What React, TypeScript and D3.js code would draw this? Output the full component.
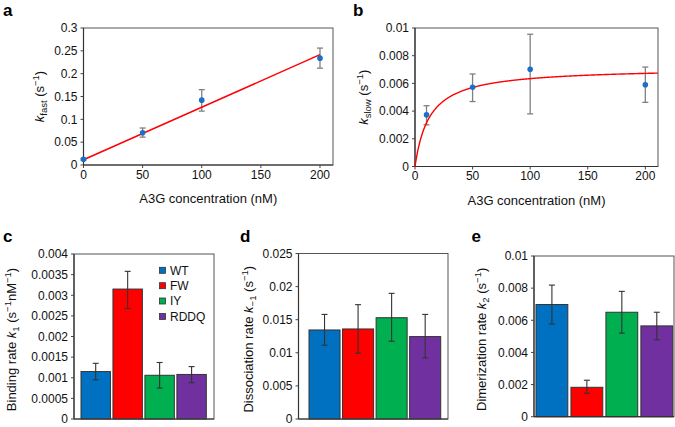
import React from 'react';
import * as d3 from 'd3';

const FONT = "'Liberation Sans', Arial, Helvetica, sans-serif";

// ---------- Panel a: k_fast vs concentration ----------
const concA = [0, 50, 100, 200];
const kFast = [0.0125, 0.0707, 0.142, 0.234];
const kFastLo = [0.0105, 0.061, 0.118, 0.212];
const kFastHi = [0.0145, 0.081, 0.165, 0.256];
const fastFitIntercept = 0.0115;
const fastFitSlope = 0.00115;
const ticksA_y = [0, 0.05, 0.1, 0.15, 0.2, 0.25, 0.3];
const ticksConc = [0, 50, 100, 150, 200];

// ---------- Panel b: k_slow vs concentration ----------
const concB = [10, 50, 100, 200];
const kSlow = [0.00373, 0.00572, 0.00702, 0.0059];
const kSlowLo = [0.00301, 0.00469, 0.0038, 0.00463];
const kSlowHi = [0.00439, 0.00668, 0.00955, 0.00718];
const slowFitVmax = 0.00715;
const slowFitK = 12.7;
const ticksB_y = [0, 0.002, 0.004, 0.006, 0.008, 0.01];

// ---------- Panels c, d, e: mutants ----------
const mutants = ['WT', 'FW', 'IY', 'RDDQ'];
const mutantColors = ['#0070C0', '#FF0000', '#00B050', '#7030A0'];

const k1 = [0.00115, 0.00315, 0.00106, 0.00108];
const k1Lo = [0.00095, 0.00268, 0.00075, 0.00088];
const k1Hi = [0.00135, 0.00358, 0.00137, 0.00127];
const ticksC = [0, 0.0005, 0.001, 0.0015, 0.002, 0.0025, 0.003, 0.0035, 0.004];

const kMinus1 = [0.01345, 0.0136, 0.0153, 0.01245];
const kMinus1Lo = [0.01114, 0.00994, 0.01175, 0.00924];
const kMinus1Hi = [0.0158, 0.01727, 0.01898, 0.0158];
const ticksD = [0, 0.005, 0.01, 0.015, 0.02, 0.025];

const k2 = [0.00698, 0.00183, 0.0065, 0.00565];
const k2Lo = [0.00577, 0.00146, 0.0052, 0.00479];
const k2Hi = [0.00819, 0.00227, 0.0078, 0.0065];
const ticksE = [0, 0.002, 0.004, 0.006, 0.008, 0.01];

const fmt = (v: number) => String(+v.toFixed(6));

type Box = { x0: number; x1: number; y0: number; y1: number };

const TITLE_FS = 13;
const SUB_FS = 9.5;

function YTicks({ box, y, ticks }: { box: Box; y: d3.ScaleLinear<number, number>; ticks: number[] }) {
  return (
    <g>
      {ticks.map((t) => (
        <g key={t}>
          <line x1={box.x0 - 3} x2={box.x0} y1={y(t)} y2={y(t)} stroke="#444" strokeWidth={1} />
          <text x={box.x0 - 6} y={y(t)} dy="0.36em" textAnchor="end" fontSize={12} fill="#111">
            {fmt(t)}
          </text>
        </g>
      ))}
    </g>
  );
}

function XTicks({ box, x, ticks }: { box: Box; x: d3.ScaleLinear<number, number>; ticks: number[] }) {
  return (
    <g>
      {ticks.map((t) => (
        <g key={t}>
          <line x1={x(t)} x2={x(t)} y1={box.y1} y2={box.y1 + 3} stroke="#444" strokeWidth={1} />
          <text x={x(t)} y={box.y1 + 13.5} textAnchor="middle" fontSize={12} fill="#111">
            {fmt(t)}
          </text>
        </g>
      ))}
    </g>
  );
}

function Frame({ box }: { box: Box }) {
  return (
    <g>
      <rect x={box.x0} y={box.y0} width={box.x1 - box.x0} height={box.y1 - box.y0} fill="none" stroke="#555" strokeWidth={1} />
      <line x1={box.x0} x2={box.x0} y1={box.y0} y2={box.y1} stroke="#333" strokeWidth={1.2} />
      <line x1={box.x0} x2={box.x1} y1={box.y1} y2={box.y1} stroke="#333" strokeWidth={1.2} />
    </g>
  );
}

function ScatterPanel({ box, xs, ys, lo, hi, yTicks, yMax, fitPath, title, sub }: any) {
  const x = d3.scaleLinear().domain([0, 211]).range([box.x0, box.x1]);
  const y = d3.scaleLinear().domain([0, yMax]).range([box.y1, box.y0]);
  const line = d3.line<[number, number]>().x((d) => x(d[0])).y((d) => y(d[1]));
  const cap = 3;
  return (
    <g>
      <Frame box={box} />
      <YTicks box={box} y={y} ticks={yTicks} />
      <XTicks box={box} x={x} ticks={ticksConc} />
      {xs.map((xv: number, i: number) => (
        <g key={i} stroke="#808080" strokeWidth={1.3}>
          <line x1={x(xv)} x2={x(xv)} y1={y(lo[i])} y2={y(hi[i])} />
          <line x1={x(xv) - cap} x2={x(xv) + cap} y1={y(lo[i])} y2={y(lo[i])} />
          <line x1={x(xv) - cap} x2={x(xv) + cap} y1={y(hi[i])} y2={y(hi[i])} />
        </g>
      ))}
      <path d={line(fitPath) || ''} fill="none" stroke="#FF0000" strokeWidth={1.4} />
      {xs.map((xv: number, i: number) => (
        <circle key={i} cx={x(xv)} cy={y(ys[i])} r={2.8} fill="#1a70c8" />
      ))}
      <text x={(box.x0 + box.x1) / 2} y={box.y1 + 38} textAnchor="middle" fontSize={TITLE_FS} fill="#111">
        A3G concentration (nM)
      </text>
      <text
        transform={`translate(${title},${(box.y0 + box.y1) / 2}) rotate(-90)`}
        textAnchor="middle"
        fontSize={TITLE_FS}
        fill="#111"
      >
        <tspan fontStyle="italic">k</tspan>
        <tspan fontSize={SUB_FS} dy={3}>{sub}</tspan>
        <tspan dy={-3}> (s</tspan>
        <tspan fontSize={SUB_FS} dy={-5}>−1</tspan>
        <tspan dy={5}>)</tspan>
      </text>
    </g>
  );
}

function BarPanel({ box, values, lo, hi, yTicks, yMax, bars, pad, titleX, children }: any) {
  const xb = d3.scaleBand<string>().domain(mutants).range([bars[0], bars[1]]).paddingInner(pad).paddingOuter(0);
  const y = d3.scaleLinear().domain([0, yMax]).range([box.y1, box.y0]);
  const cap = 3;
  return (
    <g>
      {mutants.map((m, i) => (
        <rect
          key={m}
          x={xb(m)}
          y={y(values[i])}
          width={xb.bandwidth()}
          height={y(0) - y(values[i])}
          fill={mutantColors[i]}
          stroke="#333"
          strokeWidth={1}
        />
      ))}
      {mutants.map((m, i) => {
        const cx = (xb(m) as number) + xb.bandwidth() / 2;
        return (
          <g key={m} stroke="#333" strokeWidth={1.1}>
            <line x1={cx} x2={cx} y1={y(lo[i])} y2={y(hi[i])} />
            <line x1={cx - cap} x2={cx + cap} y1={y(lo[i])} y2={y(lo[i])} />
            <line x1={cx - cap} x2={cx + cap} y1={y(hi[i])} y2={y(hi[i])} />
          </g>
        );
      })}
      <Frame box={box} />
      <YTicks box={box} y={y} ticks={yTicks} />
      <text
        transform={`translate(${titleX},${(box.y0 + box.y1) / 2 + 3}) rotate(-90)`}
        textAnchor="middle"
        fontSize={TITLE_FS}
        fill="#111"
      >
        {children}
      </text>
    </g>
  );
}

export default function App() {
  const boxA: Box = { x0: 83.5, x1: 333, y0: 28, y1: 165 };
  const boxB: Box = { x0: 415, x1: 658, y0: 28, y1: 166.5 };
  const boxC: Box = { x0: 74, x1: 214, y0: 254, y1: 419 };
  const boxD: Box = { x0: 298.5, x1: 448, y0: 253.5, y1: 419 };
  const boxE: Box = { x0: 534, x1: 674, y0: 256, y1: 416.7 };

  const fitA: [number, number][] = [0, 200].map((c) => [c, fastFitIntercept + fastFitSlope * c]);
  const fitB: [number, number][] = d3.range(0, 211.01, 0.5).map((c) => [c, (slowFitVmax * c) / (slowFitK + c)]);

  const legendY = [270.3, 285.7, 301, 316.5];

  return (
    <svg width={675} height={427} style={{ position: 'absolute', left: 0, top: 0, fontFamily: FONT }}>
      <rect width={675} height={427} fill="#fff" />
      <ScatterPanel box={boxA} xs={concA} ys={kFast} lo={kFastLo} hi={kFastHi} yTicks={ticksA_y} yMax={0.3} fitPath={fitA} title={44} sub="fast" />
      <ScatterPanel box={boxB} xs={concB} ys={kSlow} lo={kSlowLo} hi={kSlowHi} yTicks={ticksB_y} yMax={0.01} fitPath={fitB} title={368} sub="slow" />

      <BarPanel box={boxC} values={k1} lo={k1Lo} hi={k1Hi} yTicks={ticksC} yMax={0.004} bars={[81, 206.3]} pad={0.08} titleX={16}>
        <tspan>Binding rate </tspan>
        <tspan fontStyle="italic">k</tspan>
        <tspan fontSize={SUB_FS} dy={3}>1</tspan>
        <tspan dy={-3}> (s</tspan>
        <tspan fontSize={SUB_FS} dy={-5}>−1</tspan>
        <tspan dy={5}>nM</tspan>
        <tspan fontSize={SUB_FS} dy={-5}>−1</tspan>
        <tspan dy={5}>)</tspan>
      </BarPanel>
      <BarPanel box={boxD} values={kMinus1} lo={kMinus1Lo} hi={kMinus1Hi} yTicks={ticksD} yMax={0.025} bars={[309, 440.7]} pad={0.075} titleX={253}>
        <tspan>Dissociation rate </tspan>
        <tspan fontStyle="italic">k</tspan>
        <tspan fontSize={SUB_FS} dy={3}>−1</tspan>
        <tspan dy={-3}> (s</tspan>
        <tspan fontSize={SUB_FS} dy={-5}>−1</tspan>
        <tspan dy={5}>)</tspan>
      </BarPanel>
      <BarPanel box={boxE} values={k2} lo={k2Lo} hi={k2Hi} yTicks={ticksE} yMax={0.01} bars={[536, 672.7]} pad={0.09} titleX={486}>
        <tspan>Dimerization rate </tspan>
        <tspan fontStyle="italic">k</tspan>
        <tspan fontSize={SUB_FS} dy={3}>2</tspan>
        <tspan dy={-3}> (s</tspan>
        <tspan fontSize={SUB_FS} dy={-5}>−1</tspan>
        <tspan dy={5}>)</tspan>
      </BarPanel>

      {mutants.map((m, i) => (
        <g key={m}>
          <rect x={159.5} y={legendY[i] - 3} width={6} height={6} fill={mutantColors[i]} stroke="#333" strokeWidth={0.8} />
          <text x={170} y={legendY[i]} dy="0.36em" fontSize={12} fill="#111">{m}</text>
        </g>
      ))}

      <g fontWeight="bold" fontSize={17} fill="#000">
        <text x={3} y={16}>a</text>
        <text x={353} y={15.5}>b</text>
        <text x={3} y={241.5}>c</text>
        <text x={240} y={241.5}>d</text>
        <text x={471.5} y={241.5}>e</text>
      </g>
    </svg>
  );
}
